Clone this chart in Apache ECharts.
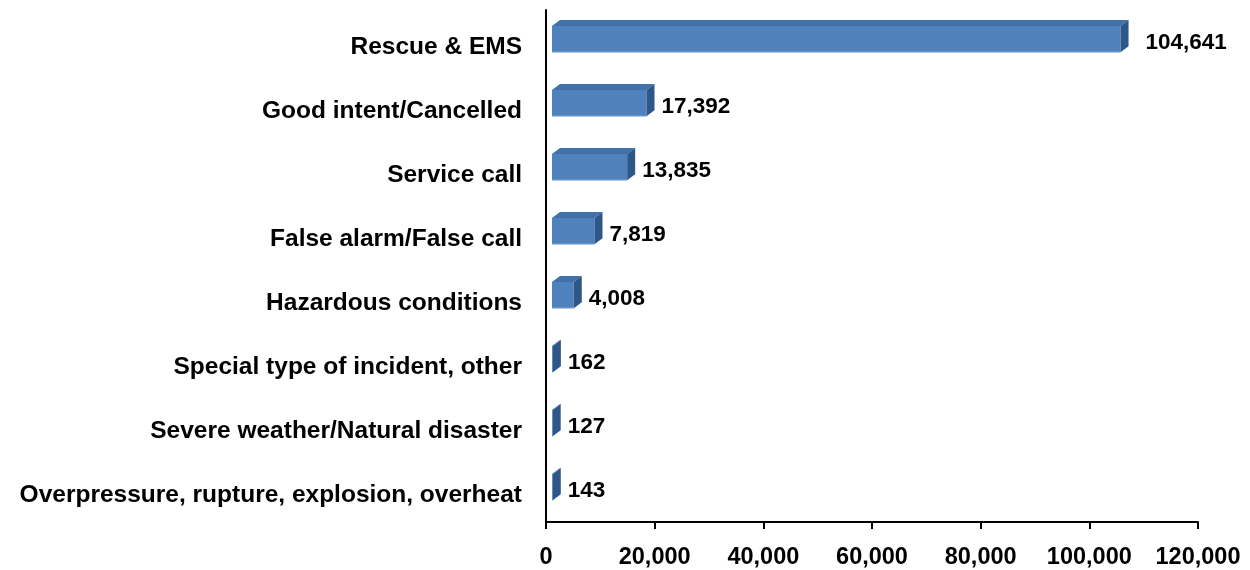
<!DOCTYPE html>
<html>
<head>
<meta charset="utf-8">
<script src="https://cdn.jsdelivr.net/npm/echarts@6/dist/echarts.min.js"></script>
<style>
	html, body { margin: 0; padding: 0; background: #fff; }
	#container { width: 1250px; height: 570px; }
</style>
</head>
<body>
<div id="container"></div>
<script>
var categories = ['Rescue & EMS', 'Good intent/Cancelled', 'Service call', 'False alarm/False call',
	'Hazardous conditions', 'Special type of incident, other', 'Severe weather/Natural disaster',
	'Overpressure, rupture, explosion, overheat'];
var counts = [104641, 17392, 13835, 7819, 4008, 162, 127, 143];
var xTicks = { min: 0, max: 120000, interval: 20000 };

function fmt(v) {
	return v.toString().replace(/\B(?=(\d{3})+(?!\d))/g, ',');
}

// 3d-looking bar: front face + top face + right side
function renderBar(params, api) {
	var cat = api.value(0);
	var val = api.value(1);
	var p0 = api.coord([0, cat]);
	var p1 = api.coord([val, cat]);
	var band = api.size([0, 1])[1];
	var cy = p0[1];
	var x0 = p0[0] + 6;
	var x1 = p1[0] + 6;
	var yTop = cy - band * 0.25;
	var yBot = cy + band * 0.16;
	var dx = 8, dy = -6;
	return {
		type: 'group',
		children: [{
			type: 'rect',
			shape: { x: x0, y: yTop, width: x1 - x0, height: yBot - yTop },
			style: { fill: '#4F81BD' }
		}, {
			type: 'line',
			shape: { x1: x0, y1: yBot, x2: x1, y2: yBot },
			style: { stroke: '#A9C1E2', lineWidth: 1 }
		}, {
			type: 'polygon',
			shape: { points: [[x0, yTop], [x0 + dx, yTop + dy], [x1 + dx, yTop + dy], [x1, yTop]] },
			style: { fill: '#4270A8' }
		}, {
			type: 'polygon',
			shape: { points: [[x1, yTop], [x1 + dx, yTop + dy], [x1 + dx, yBot + dy], [x1, yBot]] },
			style: { fill: '#2F5688' }
		}, {
			type: 'text',
			x: x1 + dx + (cat === 0 ? 17 : 7),
			y: cy + 1,
			style: {
				text: fmt(val),
				fill: '#000',
				font: 'bold 22.5px "Liberation Sans", Arial, sans-serif',
				verticalAlign: 'middle',
				align: 'left'
			}
		}]
	};
}

var dom = document.getElementById('container');
var myChart = echarts.init(dom);

var seriesData = counts.map(function (v, i) {
	return [i, v];
});

var option = {
	backgroundColor: '#fff',
	animation: false,
	grid: {
		left: 546,
		right: 52,
		top: 10,
		bottom: 48
	},
	xAxis: {
		type: 'value',
		min: xTicks.min,
		max: xTicks.max,
		interval: xTicks.interval,
		axisLine: { show: true, lineStyle: { color: '#000', width: 2 } },
		axisTick: { show: true, length: 7, lineStyle: { color: '#000', width: 2 } },
		splitLine: { show: false },
		axisLabel: {
			margin: 24,
			color: '#000',
			fontFamily: '"Liberation Sans", Arial, sans-serif',
			fontWeight: 'bold',
			fontSize: 23.5,
			formatter: function (v) { return fmt(v); }
		}
	},
	yAxis: {
		type: 'category',
		inverse: true,
		data: categories,
		axisLine: { show: true, lineStyle: { color: '#000', width: 2 } },
		axisTick: { show: false },
		axisLabel: {
			margin: 24,
			formatter: function (v) { return '{c|' + v + '}'; },
			rich: {
				c: {
					color: '#000',
					fontFamily: '"Liberation Sans", Arial, sans-serif',
					fontWeight: 'bold',
					fontSize: 24.5,
					padding: [10, 0, 0, 0]
				}
			}
		}
	},
	series: [{
		type: 'custom',
		renderItem: renderBar,
		encode: { x: 1, y: 0 },
		clip: false,
		data: seriesData
	}]
};

myChart.setOption(option);
</script>
</body>
</html>
